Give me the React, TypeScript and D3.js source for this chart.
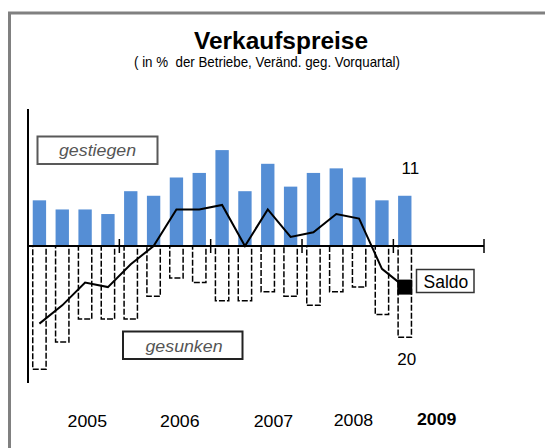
import * as d3 from 'd3'
import React from 'react'

// Quartale 2005 Q1 .. 2009 Q1
const quarters = [
    '05Q1', '05Q2', '05Q3', '05Q4',
    '06Q1', '06Q2', '06Q3', '06Q4',
    '07Q1', '07Q2', '07Q3', '07Q4',
    '08Q1', '08Q2', '08Q3', '08Q4',
    '09Q1',
]
const gestiegen = [10, 8, 8, 7, 12, 11, 15, 16, 21, 12, 18, 13, 16, 17, 15, 10, 11]
const gesunken = [27, 21, 16, 16, 16, 11, 7, 8, 12, 12, 10, 11, 13, 10, 9, 15, 20]
const saldo = [-17, -13, -8, -9, -4, 0, 8, 8, 9, 0, 8, 2, 3, 7, 6, -5, -9]
const years = ['2005', '2006', '2007', '2008', '2009']

const W = 545
const H = 448
const FONT = '"Liberation Sans", Arial, sans-serif'

const App = (): JSX.Element => {
    // 20 slots on the axis, 17 quarters used
    const x = d3
        .scaleBand<number>()
        .domain(d3.range(20))
        .range([28, 484.7])
        .paddingInner(0.415)
        .paddingOuter(0.2075)
    const y = d3.scaleLinear().domain([-30, 30]).range([383, 109])
    const bw = x.bandwidth()
    const step = x.step()
    const cx = (i: number) => (x(i) as number) + bw / 2
    const slotEdge = (i: number) => (x(i) as number) - (step - bw) / 2

    const line = d3
        .line<number>()
        .x((d, i) => cx(i))
        .y((d) => y(d))

    const last = quarters.length - 1
    // year labels sit roughly in the middle of each year (slot units from year start)
    const yearShift = [2.6, 2.65, 2.75, 2.25, 1.9]
    const yearBase = [427, 427, 427, 425.5, 425]

    return (
        <svg width={W} height={H} style={{ position: 'absolute', left: 0, top: 0, fontFamily: FONT }}>
            <rect x={0} y={0} width={W} height={H} fill="#fff" />
            {/* frame */}
            <rect x={9.5} y={13} width={W + 20} height={H + 20} fill="none" stroke="#808080" strokeWidth={3} />

            {/* title */}
            <text x={281} y={49} textAnchor="middle" fontSize={23} fontWeight="bold" textLength={174} lengthAdjust="spacingAndGlyphs">
                Verkaufspreise
            </text>
            <text x={267} y={66.5} textAnchor="middle" fontSize={15} style={{ whiteSpace: 'pre' }} textLength={266} lengthAdjust="spacingAndGlyphs">
                {'( in %  der Betriebe, Veränd. geg. Vorquartal)'}
            </text>

            {/* gestiegen bars */}
            {gestiegen.map((v, i) => (
                <rect key={`g${i}`} x={x(i)} y={y(v)} width={bw} height={y(0) - y(v)} fill="#558ED5" />
            ))}

            {/* gesunken bars, dashed */}
            {gesunken.map((v, i) => (
                <rect
                    key={`s${i}`}
                    x={x(i)}
                    y={y(0)}
                    width={bw}
                    height={y(-v) - y(0)}
                    fill="#fff"
                    stroke="#000"
                    strokeWidth={1.5}
                    strokeDasharray="6 2"
                />
            ))}

            {/* axes */}
            <line x1={28} x2={28} y1={y(30)} y2={y(-30)} stroke="#000" strokeWidth={2} />
            <line x1={28} x2={484} y1={y(0)} y2={y(0)} stroke="#000" strokeWidth={2} />
            {[4, 8, 12, 16].map((i) => (
                <line key={`t${i}`} x1={slotEdge(i)} x2={slotEdge(i)} y1={y(0) - 7} y2={y(0) + 7} stroke="#000" strokeWidth={1.5} />
            ))}
            <line x1={484} x2={484} y1={y(0) - 7} y2={y(0) + 7} stroke="#000" strokeWidth={1.5} />

            {/* saldo line */}
            <path d={line(saldo) as string} fill="none" stroke="#000" strokeWidth={2} />
            <rect x={cx(last) - 7.5} y={y(saldo[last]) - 7.5} width={15} height={15} fill="#000" />

            {/* legend boxes */}
            <rect x={37.5} y={136.5} width={120} height={27.5} fill="#fff" stroke="#595959" strokeWidth={2} />
            <text x={97.5} y={156} textAnchor="middle" fontSize={16} fontStyle="italic" fill="#555" textLength={77} lengthAdjust="spacingAndGlyphs">
                gestiegen
            </text>
            <rect x={123} y={331.5} width={119.5} height={27.5} fill="#fff" stroke="#222" strokeWidth={2} />
            <text x={184} y={352} textAnchor="middle" fontSize={16} fontStyle="italic" fill="#555" textLength={77} lengthAdjust="spacingAndGlyphs">
                gesunken
            </text>
            <rect x={416.5} y={269.5} width={57.5} height={23} fill="#fff" stroke="#333" strokeWidth={1.5} />
            <text x={423.5} y={287.5} fontSize={17.5}>
                Saldo
            </text>

            {/* value labels for latest quarter */}
            <text x={cx(last) + 5.5} y={y(gestiegen[last]) - 21.5} textAnchor="middle" fontSize={17}>
                {gestiegen[last]}
            </text>
            <text x={cx(last) + 2} y={y(-gesunken[last]) + 28} textAnchor="middle" fontSize={17}>
                {gesunken[last]}
            </text>

            {/* years */}
            {years.map((yr, k) => (
                <text
                    key={yr}
                    x={slotEdge(k * 4) + yearShift[k] * step}
                    y={yearBase[k]}
                    textAnchor="middle"
                    fontSize={17}
                    fontWeight={k === years.length - 1 ? 'bold' : 'normal'}
                    textLength={39.5}
                    lengthAdjust="spacingAndGlyphs"
                >
                    {yr}
                </text>
            ))}
        </svg>
    )
}

export default App
